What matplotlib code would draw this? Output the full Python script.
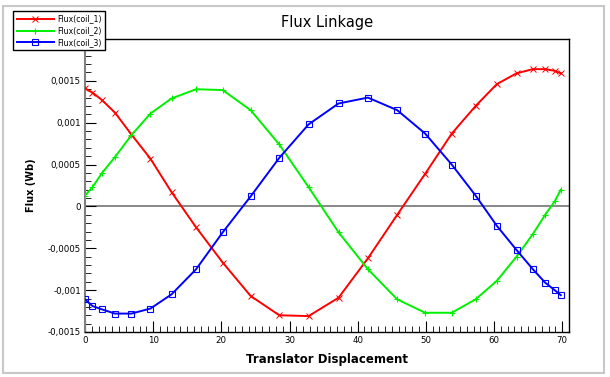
import matplotlib
matplotlib.use("Agg")
import matplotlib.pyplot as plt
from matplotlib.ticker import MultipleLocator, FixedLocator, FuncFormatter
from matplotlib.patches import Rectangle

plt.rcParams['font.family'] = ['DejaVu Sans']

x = [0, 1.1, 2.5, 4.4, 6.8, 9.6, 12.7, 16.3, 20.2, 24.3, 28.5, 32.8, 37.2,
     41.5, 45.8, 49.9, 53.8, 57.3, 60.4, 63.3, 65.7, 67.5, 68.9, 69.8]

coil1 = [0.00141, 0.00136, 0.00127, 0.00112, 0.00086, 0.00057, 0.00017, -0.00025,
         -0.00067, -0.00107, -0.00130, -0.00131, -0.00109, -0.00062, -0.00010,
         0.00039, 0.00087, 0.00120, 0.00146, 0.00159, 0.00164, 0.00164, 0.00162, 0.00159]
coil2 = [0.00013, 0.00023, 0.00040, 0.00059, 0.00085, 0.00111, 0.00129, 0.00140,
         0.00139, 0.00115, 0.00074, 0.00023, -0.00031, -0.00075, -0.00111,
         -0.00127, -0.00127, -0.00111, -0.00089, -0.00060, -0.00033, -0.00010,
         0.00006, 0.00020]
coil3 = [-0.00111, -0.00119, -0.00123, -0.00128, -0.00128, -0.00122, -0.00105,
         -0.00075, -0.00031, 0.00012, 0.00058, 0.00098, 0.00123, 0.00130, 0.00115,
         0.00087, 0.00050, 0.00013, -0.00023, -0.00052, -0.00075, -0.00091,
         -0.00100, -0.00106]

labels = ["Flux(coil_1)", "Flux(coil_2)", "Flux(coil_3)"]
yticks = [-0.0015, -0.001, -0.0005, 0, 0.0005, 0.001, 0.0015]
xticks = [0, 10, 20, 30, 40, 50, 60, 70]

W, H = 610, 377
fig = plt.figure(figsize=(W / 100, H / 100), dpi=100)
fig.patch.set_facecolor('white')

# window frame
fig.add_artist(Rectangle((3 / W, 4 / H), (W - 9) / W, (H - 10) / H, transform=fig.transFigure,
                         fill=False, edgecolor='#c8c8c8', linewidth=1.5))

ax = fig.add_axes([85 / W, (H - 332) / H, (569 - 85) / W, (332 - 39) / H])
ax.set_xlim(0, 71)
ax.set_ylim(-0.0015, 0.002)

ax.axhline(0, color='#7f7f7f', linewidth=1.3, zorder=1)

l1, = ax.plot(x, coil1, color='#ff0000', linewidth=1.4, marker='x', markersize=4,
              markeredgewidth=0.7, label=labels[0], zorder=3)
l2, = ax.plot(x, coil2, color='#00f000', linewidth=1.4, marker='+', markersize=5,
              markeredgewidth=0.8, label=labels[1], zorder=3)
l3, = ax.plot(x, coil3, color='#0000ff', linewidth=1.4, marker='s', markersize=4,
              markerfacecolor='none', markeredgewidth=0.8, label=labels[2], zorder=3)

ax.yaxis.set_major_locator(FixedLocator(yticks))
ax.yaxis.set_minor_locator(MultipleLocator(0.0001))
ax.xaxis.set_major_locator(FixedLocator(xticks))
ax.xaxis.set_minor_locator(MultipleLocator(1))

def yfmt(v, pos):
    if abs(v) < 1e-12:
        return "0"
    s = ("%.4f" % v).rstrip('0').rstrip('.')
    return s.replace('.', ',')

ax.yaxis.set_major_formatter(FuncFormatter(yfmt))
ax.tick_params(axis='both', which='major', direction='in', length=8, width=0.8,
               labelsize=6.2, pad=3)
ax.tick_params(axis='both', which='minor', direction='in', length=4, width=0.6)

for s in ax.spines.values():
    s.set_linewidth(1.0)
ax.spines['left'].set_color('#808080')
ax.spines['left'].set_linewidth(1.5)

ax.set_title("Flux Linkage", fontsize=10.5, pad=9)
ax.set_xlabel("Translator Displacement", fontsize=8.5, fontweight='bold', labelpad=6)
ax.set_ylabel("Flux (Wb)", fontsize=7, fontweight='bold', labelpad=8)

leg = fig.legend(handles=[l1, l2, l3], loc='upper left',
                 bbox_to_anchor=(13 / W, 1 - 11 / H), fontsize=5.6,
                 frameon=True, fancybox=False, borderpad=0.45, labelspacing=0.35,
                 handlelength=4.8, handletextpad=0.4, borderaxespad=0)
leg.get_frame().set_edgecolor('black')
leg.get_frame().set_linewidth(1.0)
leg.get_frame().set_alpha(1)
leg.set_zorder(10)

fig.savefig("out.png", dpi=100)
